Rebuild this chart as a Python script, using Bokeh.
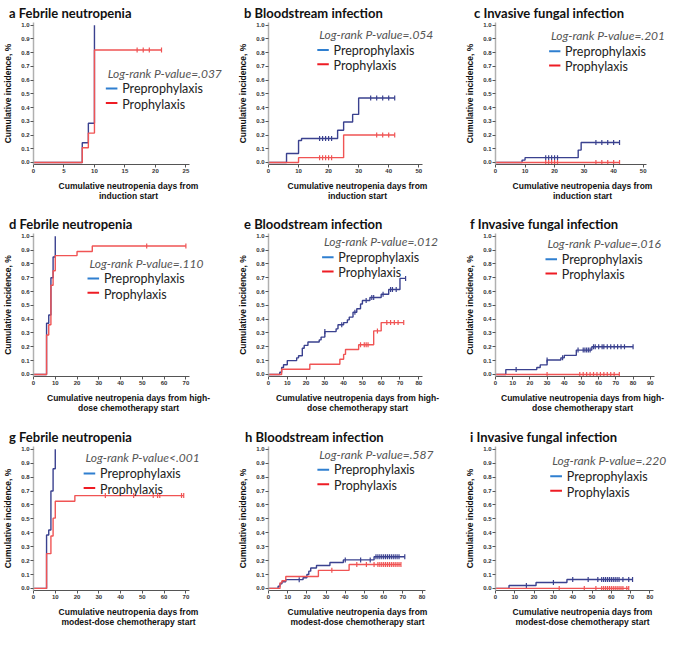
import numpy as np
from bokeh.plotting import figure
from bokeh.layouts import gridplot
from bokeh.models import Label, FixedTicker, PrintfTickFormatter, Range1d, Title
from bokeh.embed import file_html
from bokeh.resources import INLINE

# ---------------- data ----------------
letters = ["a", "b", "c", "d", "e", "f", "g", "h", "i"]
titles = ["Febrile neutropenia", "Bloodstream infection", "Invasive fungal infection"] * 3
pvalues = ["Log-rank P-value=.037", "Log-rank P-value=.054", "Log-rank P-value=.201",
           "Log-rank P-value=.110", "Log-rank P-value=.012", "Log-rank P-value=.016",
           "Log-rank P-value<.001", "Log-rank P-value=.587", "Log-rank P-value=.220"]
xlabel_rows = ["Cumulative neutropenia days from\ninduction start",
               "Cumulative neutropenia days from high-\ndose chemotherapy start",
               "Cumulative neutropenia days from\nmodest-dose chemotherapy start"]
ylabel = "Cumulative incidence, %"
group_names = ["Preprophylaxis", "Prophylaxis"]
x_max = [25, 50, 50, 70, 80, 90, 70, 80, 80]
x_step = [5, 10, 10, 10, 10, 10, 10, 10, 10]
y_ticks = [0.0, 0.1, 0.2, 0.3, 0.4, 0.5, 0.6, 0.7, 0.8, 0.9, 1.0]

# panel a
a_pre_t = [8, 9, 10]
a_pre_y = [0.143, 0.286, 1.0]
a_pre_end = 10
a_pre_cens = []
a_pro_t = [8, 9, 10]
a_pro_y = [0.107, 0.214, 0.82]
a_pro_end = 21
a_pro_cens = [17, 18, 19, 21]

# panel b
b_pre_t = [6, 10, 11, 23, 25, 28, 30]
b_pre_y = [0.065, 0.16, 0.175, 0.235, 0.295, 0.35, 0.47]
b_pre_end = 42
b_pre_cens = [17, 18, 19, 20, 21, 34, 36, 38, 40, 42]
b_pro_t = [10, 25]
b_pro_y = [0.035, 0.20]
b_pro_end = 42
b_pro_cens = [17, 18, 19, 20, 21, 36, 38, 40, 42]

# panel c
c_pre_t = [9, 10, 28, 29]
c_pre_y = [0.017, 0.035, 0.09, 0.145]
c_pre_end = 42
c_pre_cens = [17, 18, 19, 20, 21, 34, 36, 38, 40, 42]
c_pro_t = []
c_pro_y = []
c_pro_end = 42
c_pro_cens = [17, 18, 19, 20, 21, 34, 36, 38, 40, 42]

# panel d
d_pre_t = [6, 7, 8, 9, 10]
d_pre_y = [0.37, 0.43, 0.70, 0.85, 1.0]
d_pre_end = 10
d_pre_cens = []
d_pro_t = [6, 7, 8, 9, 10, 20, 27]
d_pro_y = [0.285, 0.36, 0.645, 0.75, 0.86, 0.89, 0.93]
d_pro_end = 70
d_pro_cens = [52, 70]

# panel e
e_pre_t = [6, 7, 8, 10, 15, 16, 18, 19, 21, 27, 28, 30, 36, 37, 40, 42, 43, 45, 47, 49, 50, 54, 60, 64, 70]
e_pre_y = [0.016, 0.05, 0.07, 0.10, 0.12, 0.135, 0.19, 0.21, 0.235, 0.25, 0.27, 0.31, 0.33, 0.36,
           0.375, 0.395, 0.415, 0.45, 0.475, 0.51, 0.535, 0.557, 0.58, 0.615, 0.695]
e_pre_end = 73
e_pre_cens = [30, 39, 46, 52, 55, 56, 61, 65, 66, 68, 73]
e_pro_t = [7, 22, 38, 40, 41, 48, 56, 60]
e_pro_y = [0.037, 0.074, 0.11, 0.145, 0.18, 0.215, 0.315, 0.375]
e_pro_end = 72
e_pro_cens = [49, 51, 52, 53, 58, 63, 65, 67, 69, 72]

# panel f
f_pre_t = [6, 24, 26, 30, 38, 40, 47, 56]
f_pre_y = [0.035, 0.05, 0.069, 0.104, 0.12, 0.138, 0.176, 0.2]
f_pre_end = 80
f_pre_cens = [12, 30, 39, 48, 51, 52, 53, 54, 55, 57, 58, 60, 62, 63, 65, 67, 69, 71, 73, 75, 80]
f_pro_t = []
f_pro_y = []
f_pro_end = 72
f_pro_cens = [30, 49, 51, 53, 55, 57, 59, 61, 63, 65, 67, 69, 72]

# panel g
g_pre_t = [6, 7, 8, 9, 10]
g_pre_y = [0.384, 0.42, 0.70, 0.86, 1.0]
g_pre_end = 10
g_pre_cens = []
g_pro_t = [6, 8, 9, 10, 19]
g_pro_y = [0.25, 0.377, 0.505, 0.627, 0.667]
g_pro_end = 69
g_pro_cens = [33, 46, 55, 57, 58, 68, 69]

# panel h
h_pre_t = [5, 6, 7, 9, 18, 20, 21, 22, 25, 32, 39, 55]
h_pre_y = [0.016, 0.033, 0.048, 0.063, 0.077, 0.10, 0.124, 0.147, 0.165, 0.186, 0.205, 0.228]
h_pre_end = 71
h_pre_cens = [16, 40, 48, 53, 56, 57, 58, 59, 60, 61, 62, 63, 64, 65, 66, 67, 68, 71]
h_pro_t = [6, 7, 9, 26, 42]
h_pro_y = [0.04, 0.055, 0.086, 0.13, 0.172]
h_pro_end = 69
h_pro_cens = [33, 46, 51, 55, 57, 58, 59, 60, 61, 62, 63, 64, 65, 66, 67, 68, 69]

# panel i
i_pre_t = [7, 21, 37]
i_pre_y = [0.021, 0.043, 0.064]
i_pre_end = 71
i_pre_cens = [16, 30, 40, 48, 53, 55, 56, 57, 58, 59, 60, 61, 62, 63, 64, 66, 69, 71]
i_pro_t = []
i_pro_y = []
i_pro_end = 69
i_pro_cens = [33, 46, 52, 55, 56, 57, 58, 59, 60, 61, 62, 63, 64, 65, 66, 68, 69]

series = [
    ((a_pre_t, a_pre_y, a_pre_end, a_pre_cens), (a_pro_t, a_pro_y, a_pro_end, a_pro_cens)),
    ((b_pre_t, b_pre_y, b_pre_end, b_pre_cens), (b_pro_t, b_pro_y, b_pro_end, b_pro_cens)),
    ((c_pre_t, c_pre_y, c_pre_end, c_pre_cens), (c_pro_t, c_pro_y, c_pro_end, c_pro_cens)),
    ((d_pre_t, d_pre_y, d_pre_end, d_pre_cens), (d_pro_t, d_pro_y, d_pro_end, d_pro_cens)),
    ((e_pre_t, e_pre_y, e_pre_end, e_pre_cens), (e_pro_t, e_pro_y, e_pro_end, e_pro_cens)),
    ((f_pre_t, f_pre_y, f_pre_end, f_pre_cens), (f_pro_t, f_pro_y, f_pro_end, f_pro_cens)),
    ((g_pre_t, g_pre_y, g_pre_end, g_pre_cens), (g_pro_t, g_pro_y, g_pro_end, g_pro_cens)),
    ((h_pre_t, h_pre_y, h_pre_end, h_pre_cens), (h_pro_t, h_pro_y, h_pro_end, h_pro_cens)),
    ((i_pre_t, i_pre_y, i_pre_end, i_pre_cens), (i_pro_t, i_pro_y, i_pro_end, i_pro_cens)),
]

# ---------------- styling / layout ----------------
CURVE_COLORS = ["#3a418f", "#f05454"]
LEGEND_COLORS = ["#2f7fd0", "#ee1c24"]
CELL_W, CELL_H = 228, 215          # reference cell size
FIG_W = 223
FIG_H = [210, 210, 209]
SX = FIG_W / CELL_W
SY = 210 / CELL_H

# frame geometry in reference cell pixels: left, x of last tick, y of 1.0, y of 0.0
geom = [(31, 189, 23, 166), (42, 199, 22, 166), (43, 200, 25, 168),
        (31, 189, 24, 168), (42, 199, 24, 169), (47, 208, 26, 171),
        (31, 189, 29, 173), (46, 203, 29, 172), (50, 208, 29, 173)]
letter_x = [6, 17, 21, 6, 17, 21, 6, 22, 24]
legend_x = [106, 93, 100, 87, 98, 99, 83, 96, 106]   # left of legend swatches (reference px)
legend_y = [73, 32, 36, 52, 30, 34, 38, 34, 41]      # centre of the p-value line (reference px)

Y0, Y1 = -0.015, 1.02
XPAD = 1.025


def step_xy(t, y, end):
    xs = [0] + list(t) + [end]
    ys = [0.0] + list(y) + [y[-1] if len(y) else 0.0]
    return xs, ys


def value_at(t, y, c):
    idx = np.searchsorted(np.asarray(t, dtype=float), np.asarray(c, dtype=float), side="right") - 1
    yy = np.asarray([0.0] + list(y))
    return list(yy[idx + 1])


figs = []
for k in range(9):
    row = k // 3
    L, XR, T, Z = geom[k]
    fl = L
    fr = L + (XR - L) * XPAD          # end of the axis line
    ft = T - (Y1 - 1.0) * (Z - T)
    fb = Z + (-Y0) * (Z - T)
    H = FIG_H[row]
    axis_end = x_max[k] * XPAD
    x_end = axis_end * (CELL_W - fl) / (fr - fl)

    def xd(px, L=L, XR=XR, k=k):
        return (px - L) / (XR - L) * x_max[k]

    def yd(py, T=T, Z=Z):
        return (Z - py) / (Z - T)

    p = figure(width=FIG_W, height=H, output_backend="svg", toolbar_location=None,
               x_range=Range1d(0, x_end), y_range=Range1d(Y0, Y1),
               min_border_left=int(round(SX * fl)), min_border_right=0,
               min_border_top=int(round(SY * ft)), min_border_bottom=int(round(H - SY * fb)))
    p.outline_line_color = None
    p.xgrid.visible = False
    p.ygrid.visible = False
    p.background_fill_color = "white"
    p.border_fill_color = "white"

    p.title = Title(text=letters[k] + " " + titles[k], align="left",
                    offset=SX * (letter_x[k] - fl), text_font="Lato", text_font_style="bold",
                    text_font_size="13px", text_color="#111111", standoff=3)

    for gi, (t, y, end, cens) in enumerate(series[k]):
        xs, ys = step_xy(t, y, end)
        p.step(xs, ys, mode="after", line_color=CURVE_COLORS[gi], line_width=1.4)
        if len(cens):
            cy = value_at(t, y, cens)
            p.scatter(cens, cy, marker="dash", angle=np.pi / 2, size=5,
                      line_color=CURVE_COLORS[gi], line_width=1.2)

    # axes
    p.xaxis.ticker = FixedTicker(ticks=list(range(0, x_max[k] + 1, x_step[k])))
    p.xaxis.bounds = (0, axis_end)
    p.yaxis.ticker = FixedTicker(ticks=y_ticks)
    p.yaxis.formatter = PrintfTickFormatter(format="%.1f")
    for ax in (p.xaxis[0], p.yaxis[0]):
        ax.major_label_text_font = "Liberation Sans"
        ax.major_label_text_font_size = "6px"
        ax.major_label_text_font_style = "bold"
        ax.major_label_text_color = "#333333"
        ax.major_tick_in = 0
        ax.major_tick_out = 3
        ax.minor_tick_in = 0
        ax.minor_tick_out = 0
        ax.major_tick_line_color = "#555555"
        ax.major_label_standoff = 1
        ax.axis_label_text_font = "Liberation Sans"
        ax.axis_label_text_font_size = "8.5px"
        ax.axis_label_text_font_style = "bold"
        ax.axis_label_text_color = "#111111"
        ax.axis_label_text_line_height = 1.0
    p.xaxis.axis_line_color = "#555555"
    p.yaxis.axis_line_color = "#b0b0b0"
    p.yaxis.axis_line_width = 1.5
    p.xaxis.axis_label = xlabel_rows[row]
    p.yaxis.axis_label = ylabel
    p.xaxis.axis_label_standoff = 5
    p.yaxis.axis_label_standoff = 5

    # legend block: p-value line, then the two group swatches
    gx, gy = legend_x[k], legend_y[k]
    p.add_layout(Label(x=xd(gx + 2), y=yd(gy), text=pvalues[k], text_font="Lato",
                       text_font_style="italic", text_font_size="12px", text_color="#555555",
                       text_baseline="middle"))
    for gi in range(2):
        cy = gy + 16 + 15 * gi
        p.segment(x0=[xd(gx)], y0=[yd(cy)], x1=[xd(gx + 12)], y1=[yd(cy)],
                  line_color=LEGEND_COLORS[gi], line_width=2)
        p.add_layout(Label(x=xd(gx + 17), y=yd(cy + 1.5 * gi), text=group_names[gi],
                           text_font="Lato", text_font_size="12.5px", text_color="#222222",
                           text_baseline="middle"))
    figs.append(p)

grid = gridplot([figs[0:3], figs[3:6], figs[6:9]], toolbar_location=None)
open("out.html", "w").write(file_html(grid, INLINE))
